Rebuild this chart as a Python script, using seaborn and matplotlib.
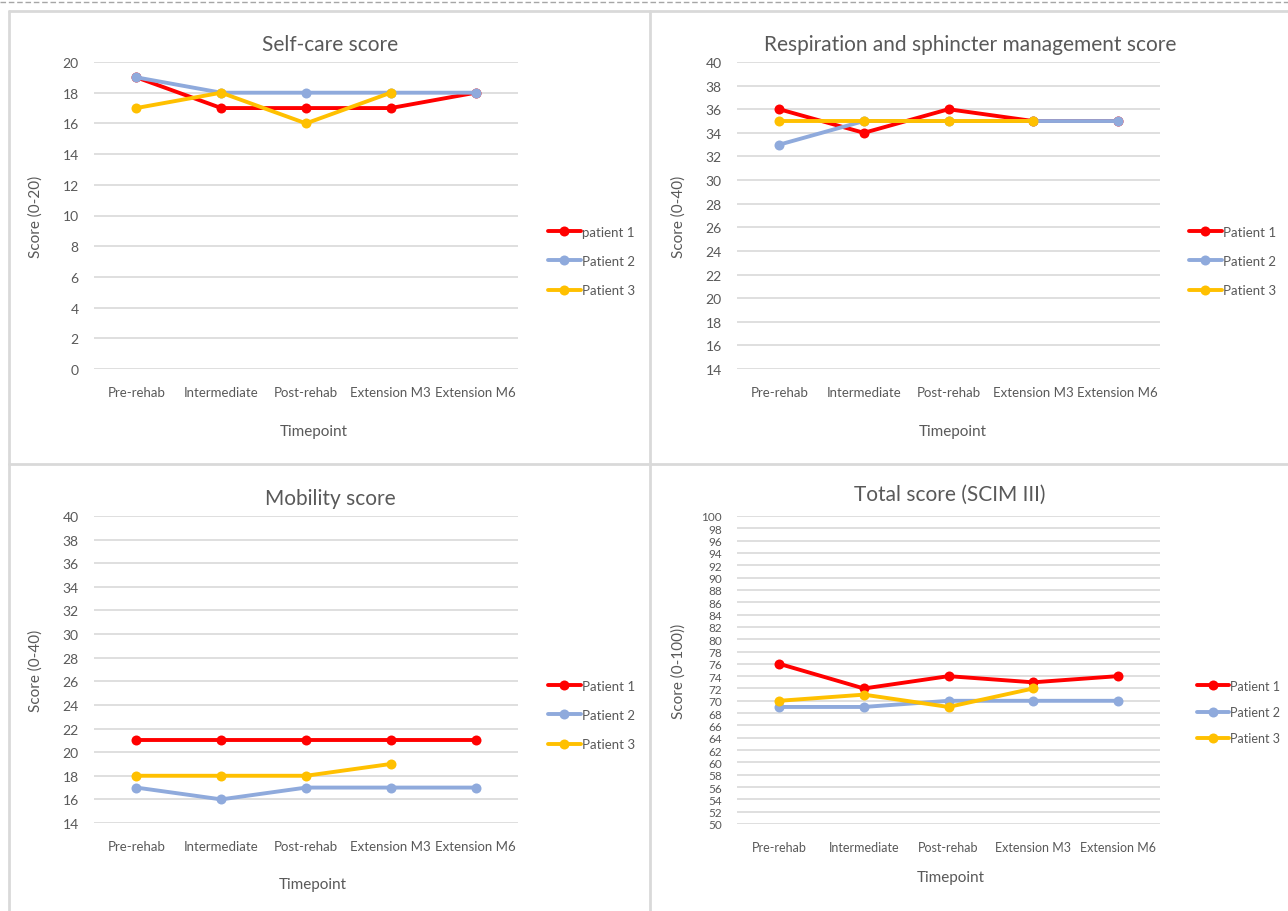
import numpy as np
import pandas as pd
import seaborn as sns
import matplotlib.pyplot as plt
from matplotlib.lines import Line2D

# ---- data -------------------------------------------------------------
timepoints = ["Pre-rehab", "Intermediate", "Post-rehab", "Extension M3", "Extension M6"]

selfcare_p1 = [19, 17, 17, 17, 18]
selfcare_p2 = [19, 18, 18, 18, 18]
selfcare_p3 = [17, 18, 16, 18, np.nan]

resp_p1 = [36, 34, 36, 35, 35]
resp_p2 = [33, 35, 35, 35, 35]
resp_p3 = [35, 35, 35, 35, np.nan]

mobility_p1 = [21, 21, 21, 21, 21]
mobility_p2 = [17, 16, 17, 17, 17]
mobility_p3 = [18, 18, 18, 19, np.nan]

total_p1 = [76, 72, 74, 73, 74]
total_p2 = [69, 69, 70, 70, 70]
total_p3 = [70, 71, 69, 72, np.nan]

labels_first = ["patient 1", "Patient 2", "Patient 3"]
labels_std = ["Patient 1", "Patient 2", "Patient 3"]
colors = ["#FF0000", "#8FAADC", "#FFC000"]

TEXT = "#595959"
GRID = "#D9D9D9"
LW = 2.8
MS = 7.2

sns.set_theme(style="white")
plt.rcParams["font.family"] = ["Lato", "DejaVu Sans"]

W, H = 1288, 912
fig = plt.figure(figsize=(W / 100, H / 100), dpi=100)


def fx(px):
    return px / W


def fy(py):
    return 1 - py / H


def long_frame(series, labels):
    rows = []
    for vals, lab in zip(series, labels):
        for t, v in zip(timepoints, vals):
            rows.append({"Timepoint": t, "Score": v, "Patient": lab})
    return pd.DataFrame(rows)


def panel(rect_px, title, ylabel, ylim, ystep, series, labels,
          xlabel_px, title_px, legend_px, xtick_fs=9.5, ytick_fs=10,
          leg_fs=9.5, leg_spacing=1.3):
    x0, y0, x1, y1 = rect_px
    w, h = x1 - x0, y1 - y0
    ax = fig.add_axes([fx(x0), fy(y1), fx(w), h / H])
    df = long_frame(series, labels)
    sns.lineplot(data=df, x="Timepoint", y="Score", hue="Patient",
                 hue_order=labels, palette=colors, sort=False,
                 marker="o", markersize=MS, markeredgewidth=0,
                 linewidth=LW, legend=False, ax=ax)
    ax.set_xlim(-0.5, len(timepoints) - 0.5)
    ax.set_ylim(*ylim)
    ax.set_yticks(np.arange(ylim[0], ylim[1] + 0.1, ystep))
    ax.grid(axis="y", color=GRID, linewidth=1.2)
    ax.grid(axis="x", visible=False)
    ax.set_axisbelow(True)
    for s in ax.spines.values():
        s.set_visible(False)
    ax.tick_params(axis="both", length=0, colors=TEXT)
    ax.tick_params(axis="x", pad=12, labelsize=xtick_fs)
    ax.tick_params(axis="y", pad=11, labelsize=ytick_fs)
    ax.set_xlabel("Timepoint", color=TEXT, fontsize=11)
    ax.xaxis.set_label_coords((xlabel_px[0] - x0) / w,
                              -(xlabel_px[1] - 5 - y1) / h)
    ax.set_ylabel(ylabel, color=TEXT, fontsize=11)
    ax.yaxis.set_label_coords(-51 / w, 0.5)
    ax.set_title(title, color=TEXT, fontsize=15,
                 x=(title_px[0] - x0) / w,
                 y=1 + (y0 - title_px[1] - 2) / h, pad=0, va="center")
    handles = [Line2D([], [], color=c, linewidth=LW, marker="o",
                      markersize=MS, markeredgewidth=0) for c in colors]
    ax.legend(handles, labels, loc="center left", frameon=False,
              bbox_to_anchor=(fx(legend_px[0]), fy(legend_px[1])),
              bbox_transform=fig.transFigure, fontsize=leg_fs,
              handlelength=2.5, handletextpad=0.1,
              labelspacing=leg_spacing, borderpad=0, labelcolor=TEXT)
    return ax


panel((94, 63, 518, 370), "Self-care score", "Score (0-20)", (0, 20), 2,
      [selfcare_p1, selfcare_p2, selfcare_p3], labels_first,
      (314, 430), (330, 43), (541, 262))
panel((737, 63, 1160, 370), "Respiration and sphincter management score",
      "Score (0-40)", (14, 40), 2,
      [resp_p1, resp_p2, resp_p3], labels_std,
      (953, 430), (970, 43), (1182, 262))
panel((94, 517, 518, 824), "Mobility score", "Score (0-40)", (14, 40), 2,
      [mobility_p1, mobility_p2, mobility_p3], labels_std,
      (313, 883), (330, 497), (541, 716))
panel((737, 517, 1160, 825), "Total score (SCIM III)", "Score (0-100))",
      (50, 100), 2, [total_p1, total_p2, total_p3], labels_std,
      (951, 876), (950, 493), (1191, 713), xtick_fs=9, ytick_fs=8.5,
      leg_fs=9, leg_spacing=1.15)

# panel frames and the dashed rule at the top
frame_kw = dict(color=GRID, linewidth=2, transform=fig.transFigure)
fig.add_artist(Line2D([fx(9), fx(9)], [fy(12), fy(912)], **frame_kw))
fig.add_artist(Line2D([fx(650), fx(650)], [fy(12), fy(912)], **frame_kw))
fig.add_artist(Line2D([fx(9), fx(1288)], [fy(12), fy(12)], **frame_kw))
fig.add_artist(Line2D([fx(9), fx(1288)], [fy(465), fy(465)], **frame_kw))
fig.add_artist(Line2D([0, 1], [fy(3), fy(3)], color="#A6A6A6", linewidth=1,
                      linestyle=(0, (4, 2)), transform=fig.transFigure))

fig.savefig("out.png", dpi=100)
